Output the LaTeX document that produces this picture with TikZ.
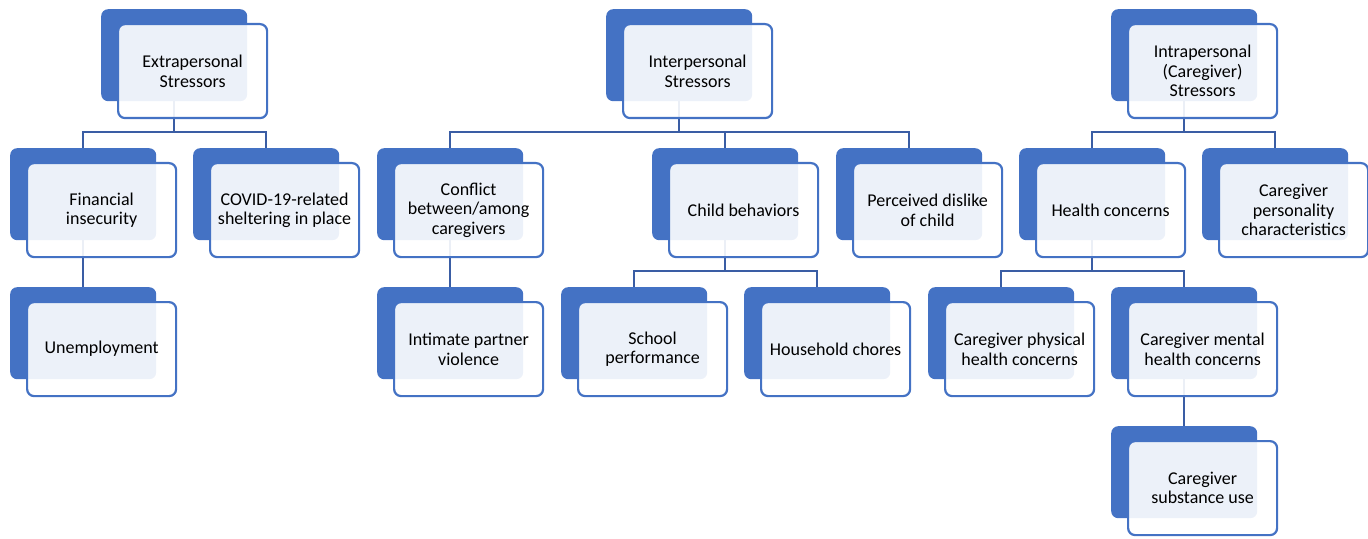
\documentclass[tikz,border=0pt]{standalone}
\usepackage{fontspec}
\setmainfont{Carlito}
\usetikzlibrary{positioning,backgrounds}
\definecolor{boxblue}{HTML}{4472C4}
\definecolor{lineblue}{HTML}{3A5DA4}

\begin{document}
\begin{tikzpicture}[x=1bp,y=-1bp,
  back/.style={fill=boxblue,rounded corners=7bp,anchor=north west,
    minimum width=146bp,minimum height=92bp,inner sep=0pt},
  front/.style={draw=boxblue,line width=2.2bp,fill=white,fill opacity=0.9,
    text opacity=1,rounded corners=7bp,minimum width=149bp,minimum height=94bp,
    inner sep=0pt,align=center,font=\fontsize{18bp}{19.5bp}\selectfont,
    below right=14bp and 16bp of #1.north west},
  link/.style={draw=lineblue,line width=2.2bp}]
\useasboundingbox (0,0) rectangle (1368,539);
% top row
\node[back] (b-extra) at (101,9) {};
\node[front=b-extra] (extra) {Extrapersonal\\Stressors};
\node[back] (b-inter) at (606,9) {};
\node[front=b-inter] (inter) {Interpersonal\\Stressors};
\node[back] (b-intra) at (1111,9) {};
\node[front=b-intra] (intra) {Intrapersonal\\(Caregiver)\\Stressors};
% second row
\node[back] (b-fin) at (10,148) {};
\node[front=b-fin] (fin) {Financial\\insecurity};
\node[back] (b-covid) at (193,148) {};
\node[front=b-covid] (covid) {COVID-19-related\\sheltering in place};
\node[back] (b-confl) at (377,148) {};
\node[front=b-confl] (confl) {Conflict\\between/among\\caregivers};
\node[back] (b-child) at (652,148) {};
\node[front=b-child] (child) {Child behaviors};
\node[back] (b-dislike) at (836,148) {};
\node[front=b-dislike] (dislike) {Perceived dislike\\of child};
\node[back] (b-health) at (1019,148) {};
\node[front=b-health] (health) {Health concerns};
\node[back] (b-pers) at (1202,148) {};
\node[front=b-pers] (pers) {Caregiver\\personality\\characteristics};
% third row
\node[back] (b-unemp) at (10,287) {};
\node[front=b-unemp] (unemp) {Unemployment};
\node[back] (b-ipv) at (377,287) {};
\node[front=b-ipv] (ipv) {Intimate partner\\violence};
\node[back] (b-school) at (561,287) {};
\node[front=b-school] (school) {School\\performance};
\node[back] (b-chores) at (744,287) {};
\node[front=b-chores] (chores) {Household chores};
\node[back] (b-phys) at (928,287) {};
\node[front=b-phys] (phys) {Caregiver physical\\health concerns};
\node[back] (b-mental) at (1111,287) {};
\node[front=b-mental] (mental) {Caregiver mental\\health concerns};
% fourth row
\node[back] (b-subst) at (1111,426) {};
\node[front=b-subst] (subst) {Caregiver\\substance use};
% connectors
\begin{pgfonlayer}{background}
\foreach \p/\c in {extra/fin,extra/covid,inter/confl,inter/child,inter/dislike,
  intra/health,intra/pers,child/school,child/chores,health/phys,health/mental}
  \draw[link] (b-\c.north) -- ++(0,-16) -| (b-\p.south);
\draw[link] (b-unemp.north) -- (b-fin.south);
\draw[link] (b-ipv.north) -- (b-confl.south);
\draw[link] (b-subst.north) -- (b-mental.south);
\end{pgfonlayer}
\end{tikzpicture}
\end{document}
